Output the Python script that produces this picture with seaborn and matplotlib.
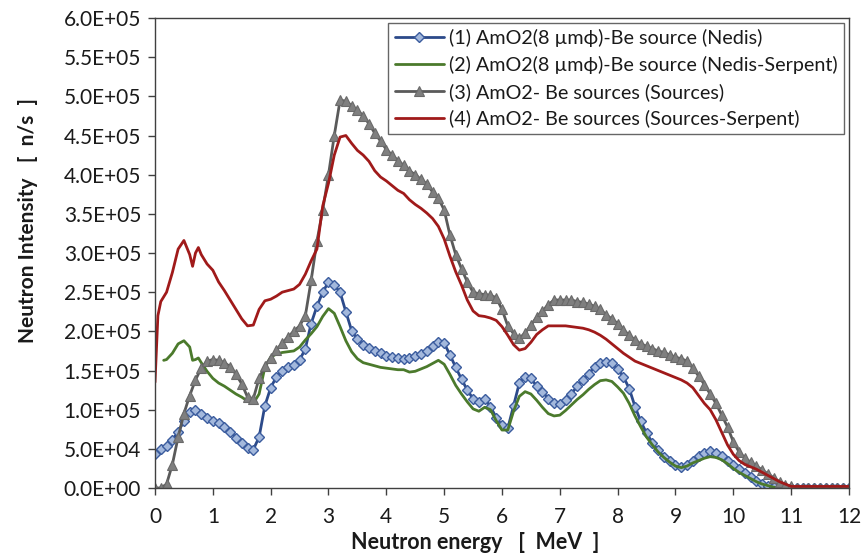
import numpy as np
import pandas as pd
import matplotlib
matplotlib.use("Agg")
import matplotlib.pyplot as plt
from matplotlib.ticker import FuncFormatter
import seaborn as sns

# ---- data: neutron spectra, intensity in units of 1e4 n/s ----
energy_grid = [round(0.1 * i, 1) for i in range(121)]

nedis = [
    4.3, 5.0, 5.3, 6.1, 7.2, 8.5, 9.7, 9.9, 9.4, 9.0,
    8.6, 8.3, 7.8, 7.2, 6.4, 5.7, 5.1, 4.9, 6.5, 10.5,
    12.8, 14.2, 15.0, 15.4, 15.7, 16.3, 17.8, 21.0, 23.2, 25.0,
    26.3, 25.9, 25.0, 22.5, 20.1, 19.0, 18.3, 17.9, 17.5, 17.2,
    16.9, 16.7, 16.6, 16.5, 16.6, 16.8, 17.1, 17.5, 18.1, 18.7,
    18.5, 17.0, 15.4, 13.9, 12.5, 11.4, 11.0, 11.4, 10.4, 9.0,
    8.0, 7.6, 10.5, 13.4, 14.2, 14.0, 13.0, 12.3, 11.4, 10.8,
    10.7, 11.2, 12.0, 13.0, 13.8, 14.6, 15.4, 15.9, 16.1, 15.9,
    15.2, 14.2, 12.7, 10.4, 8.5, 7.0, 5.8, 4.8, 4.0, 3.4,
    2.9, 2.7, 2.9, 3.4, 4.1, 4.5, 4.7, 4.5, 4.1, 3.5,
    2.9, 2.4, 1.9, 1.4, 0.9, 0.5, 0.2, 0.1, 0.0, 0.0,
    0.0, 0.0, 0.0, 0.0, 0.0, 0.0, 0.0, 0.0, 0.0, 0.0,
    0.0,
]

sources = [
    0.0, 0.0, 0.5, 3.0, 6.5, 9.5, 11.8, 13.8, 15.3, 16.2,
    16.4, 16.3, 16.0, 15.5, 14.5, 13.3, 11.6, 11.4, 14.0, 15.6,
    16.6, 17.6, 18.5, 19.3, 20.0, 20.7, 22.0, 26.5, 31.5, 35.5,
    40.0, 45.0, 49.5, 49.4, 48.8, 48.2, 47.5, 46.5, 45.3, 44.3,
    43.2, 42.5, 41.8, 41.2, 40.5, 40.0, 39.4, 38.8, 37.8, 37.0,
    35.5, 32.3, 29.8, 28.0, 26.3, 25.0, 24.8, 24.7, 24.6, 24.3,
    22.8, 20.7, 19.7, 19.1, 19.8, 20.8, 21.8, 22.6, 23.4, 24.0,
    24.0, 24.0, 24.0, 23.8, 23.7, 23.5, 23.2, 22.8, 22.1, 21.6,
    21.0, 20.2, 19.5, 18.9, 18.4, 18.1, 17.8, 17.5, 17.3, 17.0,
    16.7, 16.5, 16.2, 15.3, 14.3, 13.2, 12.0, 10.8, 9.3, 7.8,
    5.9, 4.6, 3.8, 3.3, 2.8, 2.3, 1.8, 1.3, 0.8, 0.4,
    0.2, 0.0, 0.0, 0.0, 0.0, 0.0, 0.0, 0.0, 0.0, 0.0,
    0.0,
]

nedis_serpent_energy = [
    0.15, 0.2, 0.3, 0.4, 0.5, 0.6, 0.65, 0.7, 0.75, 0.8, 0.9,
    1.0, 1.1, 1.2, 1.3, 1.4, 1.5, 1.6, 1.7, 1.8, 1.9,
    2.0, 2.1, 2.2, 2.3, 2.4, 2.5, 2.6, 2.7, 2.8, 2.9,
    3.0, 3.1, 3.2, 3.3, 3.4, 3.5, 3.6, 3.7, 3.8, 3.9,
    4.0, 4.1, 4.2, 4.3, 4.4, 4.5, 4.6, 4.7, 4.8, 4.9,
    5.0, 5.1, 5.2, 5.3, 5.4, 5.5, 5.6, 5.7, 5.8, 5.9,
    6.0, 6.1, 6.2, 6.3, 6.4, 6.5, 6.6, 6.7, 6.8, 6.9,
    7.0, 7.1, 7.2, 7.3, 7.4, 7.5, 7.6, 7.7, 7.8, 7.9,
    8.0, 8.1, 8.2, 8.3, 8.4, 8.5, 8.6, 8.7, 8.8, 8.9,
    9.0, 9.1, 9.2, 9.3, 9.4, 9.5, 9.6, 9.7, 9.8, 9.9,
    10.0, 10.1, 10.2, 10.3, 10.4, 10.5, 10.6, 10.7, 10.8,
]
nedis_serpent = [
    16.3, 16.4, 17.2, 18.4, 18.8, 18.0, 16.3, 16.4, 16.6, 16.0, 14.9,
    14.0, 13.4, 13.0, 12.5, 12.0, 11.6, 11.1, 10.8, 12.0, 15.4,
    16.7, 17.1, 17.3, 17.4, 17.5, 18.0, 18.9, 19.7, 20.6, 21.9,
    22.9, 22.3, 20.6, 18.8, 17.4, 16.5, 16.0, 15.8, 15.6, 15.4,
    15.3, 15.2, 15.1, 15.1, 14.8, 14.9, 15.2, 15.5, 15.9, 16.3,
    15.8, 14.5, 13.1, 12.0, 11.0, 10.1, 9.8, 10.3, 10.0, 8.6,
    7.4, 7.4, 9.8, 11.7, 12.3, 12.0, 11.2, 10.3, 9.5, 9.2,
    9.3, 9.9, 10.6, 11.3, 11.9, 12.6, 13.2, 13.7, 13.8, 13.6,
    12.9, 12.1, 10.8, 9.2, 7.8, 6.5, 5.5, 4.6, 3.9, 3.3,
    2.8, 2.6, 2.8, 3.2, 3.5, 3.8, 4.0, 3.9, 3.6, 3.1,
    2.5, 2.0, 1.6, 1.2, 0.8, 0.5, 0.3, 0.1, 0.0,
]

sources_serpent_energy = [
    0.0, 0.05, 0.1, 0.2, 0.3, 0.4, 0.5, 0.6, 0.65, 0.7, 0.75, 0.8, 0.9,
    1.0, 1.1, 1.2, 1.3, 1.4, 1.5, 1.6, 1.7, 1.8, 1.9,
    2.0, 2.1, 2.2, 2.3, 2.4, 2.5, 2.6, 2.7, 2.8, 2.9,
    3.0, 3.1, 3.2, 3.3, 3.4, 3.5, 3.6, 3.7, 3.8, 3.9,
    4.0, 4.1, 4.2, 4.3, 4.4, 4.5, 4.6, 4.7, 4.8, 4.9,
    5.0, 5.1, 5.2, 5.3, 5.4, 5.5, 5.6, 5.7, 5.8, 5.9,
    6.0, 6.1, 6.2, 6.3, 6.4, 6.5, 6.6, 6.7, 6.8, 6.9,
    7.0, 7.1, 7.2, 7.3, 7.4, 7.5, 7.6, 7.7, 7.8, 7.9,
    8.0, 8.1, 8.2, 8.3, 8.4, 8.5, 8.6, 8.7, 8.8, 8.9,
    9.0, 9.1, 9.2, 9.3, 9.4, 9.5, 9.6, 9.7, 9.8, 9.9,
    10.0, 10.1, 10.2, 10.3, 10.4, 10.5, 10.6, 10.7, 10.8, 10.9,
    11.0, 11.5, 12.0,
]
sources_serpent = [
    13.5, 22.0, 23.8, 25.0, 27.5, 30.5, 31.6, 29.8, 28.3, 30.0, 30.7, 29.8, 28.6,
    27.8, 26.3, 25.2, 24.0, 22.8, 21.6, 20.7, 20.8, 22.8, 23.9,
    24.1, 24.5, 25.0, 25.2, 25.4, 26.0, 27.3, 29.0, 30.5, 36.0,
    38.9, 42.5, 44.8, 45.0, 44.0, 43.1, 42.5, 41.7, 40.5, 39.7,
    39.2, 38.6, 38.0, 37.6, 36.8, 36.2, 35.7, 35.1, 34.4, 33.4,
    31.8, 29.6, 27.6, 25.9, 24.0, 22.6, 22.0, 21.9, 21.7, 21.4,
    20.6, 19.5, 18.3, 17.6, 17.8, 18.6, 19.6, 20.2, 20.7, 20.7,
    20.7, 20.7, 20.6, 20.5, 20.4, 20.2, 19.9, 19.5, 19.0, 18.4,
    17.8, 17.2, 16.7, 16.2, 15.9, 15.6, 15.3, 15.0, 14.7, 14.4,
    14.1, 13.8, 13.4, 12.8, 11.8, 10.8, 10.0, 8.7, 7.1, 5.5,
    4.3, 3.5, 3.0, 2.7, 2.4, 2.0, 1.6, 1.2, 0.8, 0.5,
    0.2, 0.2, 0.2,
]

labels = [
    "(1) AmO2(8 µmϕ)-Be source (Nedis)",
    "(2) AmO2(8 µmϕ)-Be source (Nedis-Serpent)",
    "(3) AmO2- Be sources (Sources)",
    "(4) AmO2- Be sources (Sources-Serpent)",
]
x_ticks = list(range(0, 13))
y_ticks = [i * 0.5e5 for i in range(13)]

SCALE = 1e4

sns.set_theme(style="white")
plt.rcParams["font.family"] = ["Lato", "DejaVu Sans"]

fig = plt.figure(figsize=(8.64, 5.56), dpi=100)
ax = fig.add_axes([0.1794, 0.1223, 0.8032, 0.8453])

sns.lineplot(x=energy_grid, y=np.array(nedis) * SCALE, ax=ax, color="#2C4A8A",
             linewidth=2.0, marker="D", markersize=5.2,
             markerfacecolor="#A3B8DC", markeredgecolor="#3B5C9E",
             markeredgewidth=1.0, label=labels[0], sort=False, estimator=None)
sns.lineplot(x=nedis_serpent_energy, y=np.array(nedis_serpent) * SCALE, ax=ax,
             color="#4B7A2C", linewidth=2.0, label=labels[1],
             sort=False, estimator=None)
sns.lineplot(x=energy_grid, y=np.array(sources) * SCALE, ax=ax, color="#5A5A5A",
             linewidth=2.0, marker="^", markersize=7.8,
             markerfacecolor="#7F7F7F", markeredgecolor="#6A6A6A",
             markeredgewidth=0.8, label=labels[2], sort=False, estimator=None)
sns.lineplot(x=sources_serpent_energy, y=np.array(sources_serpent) * SCALE, ax=ax,
             color="#A01A1A", linewidth=2.0, label=labels[3],
             sort=False, estimator=None)

ax.set_xlim(0, 12)
ax.set_ylim(0, 6.0e5)
ax.set_xticks(x_ticks)
ax.set_yticks(y_ticks)
ax.yaxis.set_major_formatter(FuncFormatter(lambda v, _: f"{v:.1E}"))

for side in ["left", "bottom", "right", "top"]:
    ax.spines[side].set_visible(True)
    ax.spines[side].set_color("#404040")
    ax.spines[side].set_linewidth(1.0)

ax.tick_params(axis="both", which="major", direction="out", length=5,
               width=1, color="#404040", labelsize=15, labelcolor="#1a1a1a",
               left=True, bottom=True, right=False, top=False)
ax.tick_params(axis="x", pad=9)
ax.tick_params(axis="y", pad=5)

ax.set_xlabel("Neutron energy   [  MeV  ]", fontsize=15.5, fontweight="bold",
              color="#1a1a1a")
ax.set_ylabel("Neutron Intensity   [  n/s  ]", fontsize=15, fontweight="bold",
              color="#1a1a1a")
ax.xaxis.set_label_coords(0.462, -0.094)
ax.yaxis.set_label_coords(-0.168, 0.57)

leg = ax.legend(loc="upper right", bbox_to_anchor=(0.9925, 0.99), fontsize=14.2,
                frameon=True, fancybox=False, edgecolor="#404040",
                handlelength=2.5, handletextpad=0.25, borderpad=0.32,
                labelspacing=0.45, borderaxespad=0.0)
leg.get_frame().set_linewidth(1.0)
for t in leg.get_texts():
    t.set_color("#1a1a1a")

fig.savefig("out.png", dpi=100)
